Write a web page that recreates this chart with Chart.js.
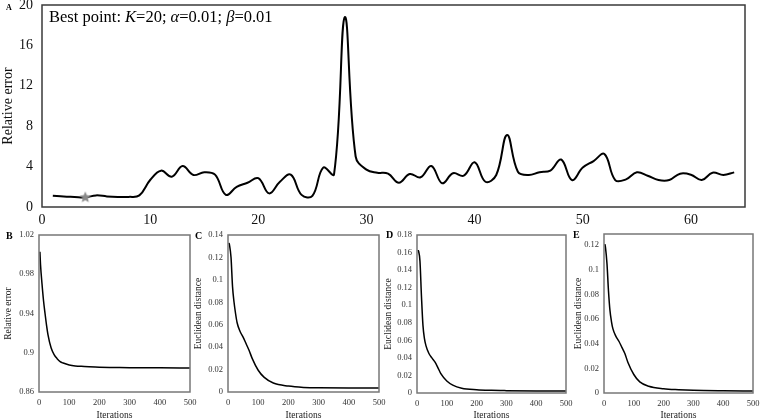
<!DOCTYPE html>
<html>
<head>
<meta charset="utf-8">
<script src="https://cdn.jsdelivr.net/npm/chart.js@4/dist/chart.umd.min.js"></script>
<style>
  body { margin: 0; background: #fff; }
  #wrap { position: relative; width: 760px; height: 420px; overflow: hidden; }
  #wrap canvas { position: absolute; }
</style>
</head>
<body>
<div id="wrap">
  <canvas id="panel-a" width="760" height="232" style="left:0;top:0"></canvas>
  <canvas id="panel-b" width="200" height="195" style="left:0;top:225px"></canvas>
  <canvas id="panel-c" width="200" height="195" style="left:190px;top:225px"></canvas>
  <canvas id="panel-d" width="195" height="195" style="left:380px;top:225px"></canvas>
  <canvas id="panel-e" width="190" height="195" style="left:570px;top:225px"></canvas>
</div>
<script>
// panel A: relative error for each parameter combination (index 1..64)
var relErrorByPoint = [
  1.12, 1.05, 1.0, 0.95, 1.15, 1.05, 1.0, 1.0, 1.15, 2.67,
  3.6, 3.0, 4.05, 3.17, 3.45, 3.2, 1.2, 2.0, 2.4, 2.85,
  1.35, 2.5, 3.2, 1.2, 1.1, 3.9, 3.24, 18.8, 5.0, 3.7,
  3.4, 3.3, 2.4, 3.27, 2.94, 4.06, 2.35, 3.34, 3.1, 4.43,
  2.5, 3.17, 7.13, 3.5, 3.17, 3.45, 3.6, 4.7, 2.67, 3.9,
  4.55, 5.25, 2.67, 2.74, 3.43, 3.1, 2.67, 2.67, 3.3, 3.2,
  2.67, 3.4, 3.17, 3.43
];
var bestPointIndex = 4;
var pointTicks = [0, 10, 20, 30, 40, 50, 60];
var relErrorTicks = [0, 4, 8, 12, 16, 20];

// panels B-E: convergence over iterations
var iterations = [3, 5, 10, 15, 20, 25, 30, 40, 50, 60, 70, 80, 100, 120, 150, 200, 250, 300, 400, 500];
var relErrorIter = [1.003, 0.99, 0.970, 0.953, 0.940, 0.928, 0.918, 0.905, 0.898, 0.894, 0.891, 0.8895, 0.8875, 0.8865, 0.886, 0.8852, 0.885, 0.8848, 0.8846, 0.8845];
var distC = [0.133, 0.131, 0.120, 0.094, 0.080, 0.070, 0.062, 0.054, 0.049, 0.043, 0.037, 0.030, 0.0194, 0.013, 0.008, 0.0053, 0.0041, 0.0037, 0.0036, 0.0036];
var distD = [0.163, 0.162, 0.150, 0.110, 0.077, 0.062, 0.054, 0.045, 0.040, 0.0354, 0.029, 0.022, 0.0137, 0.009, 0.0055, 0.0037, 0.003, 0.0027, 0.0024, 0.0023];
var distE = [0.1208, 0.118, 0.105, 0.083, 0.067, 0.058, 0.052, 0.046, 0.042, 0.037, 0.032, 0.025, 0.015, 0.009, 0.0055, 0.0035, 0.0027, 0.0022, 0.0018, 0.0016];
var iterTicks = [0, 100, 200, 300, 400, 500];

Chart.defaults.devicePixelRatio = 1;
Chart.defaults.animation = false;
var serif = "'Liberation Serif', 'Times New Roman', serif";

// draws the frame around the plot and the panel letter
var framePlugin = {
  id: 'frame',
  afterDraw: function (chart, args, opts) {
    var a = chart.chartArea;
    var ctx = chart.ctx;
    ctx.save();
    ctx.strokeStyle = opts.color;
    ctx.lineWidth = opts.width;
    ctx.strokeRect(a.left, a.top, a.right - a.left, a.bottom - a.top);
    if (opts.letter) {
      ctx.fillStyle = '#000';
      ctx.font = 'bold ' + opts.letterSize + 'px ' + serif;
      ctx.textBaseline = 'middle';
      ctx.fillText(opts.letter, opts.letterX, opts.letterY);
    }
    ctx.restore();
  }
};

// "Best point" annotation with italic symbols
var notePlugin = {
  id: 'note',
  afterDraw: function (chart, args, opts) {
    if (!opts.parts) return;
    var ctx = chart.ctx;
    var x = opts.x;
    ctx.save();
    ctx.fillStyle = '#000';
    ctx.textBaseline = 'alphabetic';
    opts.parts.forEach(function (p) {
      ctx.font = (p[1] ? 'italic ' : '') + opts.size + 'px ' + serif;
      ctx.fillText(p[0], x, opts.y);
      x += ctx.measureText(p[0]).width;
    });
    ctx.restore();
  }
};

function starImage(r, color) {
  var c = document.createElement('canvas');
  c.width = c.height = r * 2 + 2;
  var g = c.getContext('2d');
  g.beginPath();
  for (var i = 0; i < 10; i++) {
    var rr = i % 2 === 0 ? r : r * 0.45;
    var ang = -Math.PI / 2 + i * Math.PI / 5;
    g.lineTo(r + 1 + rr * Math.cos(ang), r + 1 + rr * Math.sin(ang));
  }
  g.closePath();
  g.fillStyle = color;
  g.fill();
  return c;
}

function keepTicks(list) {
  return function (scale) {
    scale.ticks = list.map(function (v) { return { value: v }; });
  };
}

function fmt(v) {
  return String(Number(v.toFixed(3)));
}

// fixed axis sizes, no extra room for overhanging tick labels
function fixHeight(h) {
  return function (s) { s.height = h; s.paddingLeft = 0; s.paddingRight = 0; };
}
function fixWidth(w) {
  return function (s) { s.width = w; s.paddingTop = 0; s.paddingBottom = 0; };
}

// ---- panel A ----
var pointsA = relErrorByPoint.map(function (v, i) { return { x: i + 1, y: v }; });
var star = starImage(6, '#8a8a8a');

new Chart(document.getElementById('panel-a'), {
  type: 'line',
  data: {
    datasets: [{
      data: pointsA,
      borderColor: '#000',
      borderWidth: 2,
      tension: 0.4,
      fill: false,
      pointRadius: pointsA.map(function (p) { return p.x === bestPointIndex ? 6 : 0; }),
      pointStyle: star,
      pointHoverRadius: 0
    }]
  },
  options: {
    responsive: false,
    layout: { padding: { top: 5, right: 15, left: 0, bottom: 0 } },
    plugins: {
      legend: { display: false },
      tooltip: { enabled: false },
      frame: { color: '#3a3a3a', width: 1.5, letter: 'A', letterSize: 8, letterX: 6, letterY: 8 },
      note: {
        x: 49, y: 22, size: 16.5,
        parts: [['Best point: ', false], ['K', true], ['=20; ', false], ['\u03b1', true],
                ['=0.01; ', false], ['\u03b2', true], ['=0.01', false]]
      }
    },
    scales: {
      x: {
        type: 'linear', min: 0, max: 65,
        grid: { display: false, drawTicks: false },
        border: { display: false },
        ticks: { padding: 5, color: '#111', font: { family: serif, size: 14 } },
        afterBuildTicks: keepTicks(pointTicks),
        afterFit: fixHeight(25)
      },
      y: {
        min: 0, max: 20,
        grid: { display: false, drawTicks: false },
        border: { display: false },
        ticks: { padding: 9, color: '#111', font: { family: serif, size: 14 } },
        afterBuildTicks: keepTicks(relErrorTicks),
        title: { display: true, text: 'Relative error', color: '#111', padding: 0, font: { family: serif, size: 14 } },
        afterFit: fixWidth(42)
      }
    }
  },
  plugins: [framePlugin, notePlugin]
});

// ---- panels B-E ----
function smallPanel(id, values, yMin, yMax, yTicks, yTitle, geo) {
  var pts = iterations.map(function (it, i) { return { x: it, y: values[i] }; });
  return new Chart(document.getElementById(id), {
    type: 'line',
    data: {
      datasets: [{
        data: pts,
        borderColor: '#000',
        borderWidth: 1.5,
        cubicInterpolationMode: 'monotone',
        pointRadius: 0,
        fill: false
      }]
    },
    options: {
      responsive: false,
      layout: { padding: { top: geo.top, right: geo.right, left: 0, bottom: 0 } },
      plugins: {
        legend: { display: false },
        tooltip: { enabled: false },
        frame: { color: '#777', width: 1.5, letter: geo.letter, letterSize: 10, letterX: geo.lx, letterY: geo.ly }
      },
      scales: {
        x: {
          type: 'linear', min: 0, max: 500,
          grid: { display: false, drawTicks: false },
          border: { display: false },
          ticks: { padding: 6, color: '#333', font: { family: serif, size: 8.5 } },
          afterBuildTicks: keepTicks(iterTicks),
          title: { display: true, text: 'Iterations', color: '#222', padding: 0, font: { family: serif, size: 9.5, lineHeight: 1 } },
          afterFit: fixHeight(geo.xh)
        },
        y: {
          min: yMin, max: yMax,
          grid: { display: false, drawTicks: false },
          border: { display: false },
          ticks: { padding: 5, color: '#333', font: { family: serif, size: 8.5 }, callback: fmt },
          afterBuildTicks: keepTicks(yTicks),
          title: { display: true, text: yTitle, color: '#222', padding: { top: 3, bottom: 0 }, font: { family: serif, size: 9.5 } },
          afterFit: fixWidth(geo.yw)
        }
      }
    },
    plugins: [framePlugin]
  });
}

smallPanel('panel-b', relErrorIter, 0.86, 1.02, [0.86, 0.9, 0.94, 0.98, 1.02], 'Relative error',
  { top: 10, right: 10, xh: 28, yw: 39, letter: 'B', lx: 6, ly: 11 });
smallPanel('panel-c', distC, 0, 0.14, [0, 0.02, 0.04, 0.06, 0.08, 0.1, 0.12, 0.14], 'Euclidean distance',
  { top: 10, right: 11, xh: 28, yw: 38, letter: 'C', lx: 5, ly: 11 });
smallPanel('panel-d', distD, 0, 0.18, [0, 0.02, 0.04, 0.06, 0.08, 0.1, 0.12, 0.14, 0.16, 0.18], 'Euclidean distance',
  { top: 10, right: 9, xh: 27, yw: 37, letter: 'D', lx: 6, ly: 10 });
smallPanel('panel-e', distE, 0, 0.129, [0, 0.02, 0.04, 0.06, 0.08, 0.1, 0.12], 'Euclidean distance',
  { top: 9, right: 7, xh: 27, yw: 34, letter: 'E', lx: 3, ly: 10 });
</script>
</body>
</html>
